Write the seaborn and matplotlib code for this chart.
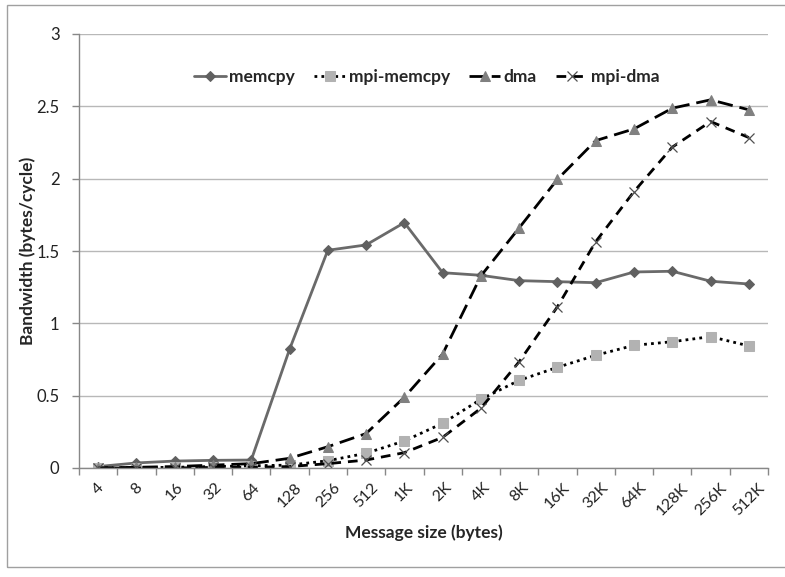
import matplotlib
matplotlib.use("Agg")
import matplotlib.pyplot as plt
import seaborn as sns
import numpy as np
import pandas as pd
from matplotlib.patches import Rectangle
from matplotlib.ticker import FixedLocator

sizes = ["4", "8", "16", "32", "64", "128", "256", "512", "1K", "2K", "4K",
         "8K", "16K", "32K", "64K", "128K", "256K", "512K"]
memcpy = [0.01, 0.035, 0.048, 0.053, 0.055, 0.82, 1.505, 1.542, 1.696, 1.35, 1.332,
          1.295, 1.288, 1.281, 1.355, 1.36, 1.291, 1.272]
mpi_memcpy = [0.0, 0.002, 0.005, 0.01, 0.015, 0.02, 0.05, 0.102, 0.187, 0.309, 0.475,
              0.606, 0.696, 0.779, 0.848, 0.873, 0.908, 0.844]
dma = [0.0, 0.005, 0.01, 0.02, 0.03, 0.067, 0.147, 0.238, 0.489, 0.788, 1.328,
       1.66, 1.996, 2.263, 2.344, 2.487, 2.545, 2.476]
mpi_dma = [0.0, 0.0, 0.0, 0.004, 0.005, 0.01, 0.03, 0.055, 0.106, 0.212, 0.413,
           0.735, 1.115, 1.565, 1.911, 2.218, 2.395, 2.284]
y_ticks = [0, 0.5, 1, 1.5, 2, 2.5, 3]

sns.set_theme(style="white")
plt.rcParams["font.family"] = ["Lato", "DejaVu Sans"]

fig = plt.figure(figsize=(7.85, 5.77), dpi=100)
ax = fig.add_axes([79 / 785, 109 / 577, (768 - 79) / 785, (543 - 109) / 577])

x = np.arange(len(sizes))

series = [
    ("memcpy", memcpy, dict(color="#6a6a6a", linestyle="-", marker="D", markersize=5,
                            markerfacecolor="#606060", markeredgecolor="#606060", linewidth=2)),
    ("mpi-memcpy", mpi_memcpy, dict(color="black", linestyle=(0, (1, 1.5)), marker="s", markersize=7,
                                    markerfacecolor="#b2b2b2", markeredgecolor="#b2b2b2", linewidth=2)),
    ("dma", dma, dict(color="black", linestyle=(0, (5.5, 2.5)), marker="^", markersize=7,
                      markerfacecolor="#808080", markeredgecolor="#808080", linewidth=2)),
    ("mpi-dma", mpi_dma, dict(color="black", linestyle=(0, (3.5, 2.5)), marker="x", markersize=7,
                              markerfacecolor="#505050", markeredgecolor="#505050",
                              markeredgewidth=0.9, linewidth=2)),
]

for name, vals, kw in series:
    sns.lineplot(x=x, y=vals, ax=ax, sort=False, label=name, **kw)

ax.set_xlim(-0.5, len(sizes) - 0.5)
ax.set_ylim(0, 3)
ax.set_yticks(y_ticks)
ax.set_yticklabels(["0", "0.5", "1", "1.5", "2", "2.5", "3"])
ax.set_xticks(x)
ax.set_xticklabels(sizes, rotation=45, ha="center", va="top")
ax.xaxis.set_minor_locator(FixedLocator(np.arange(-0.5, len(sizes), 1.0)))
ax.tick_params(axis="x", which="major", length=0, pad=9, labelsize=11.5, colors="#222222")
ax.tick_params(axis="x", which="minor", length=5, width=1, color="#888888", direction="out", bottom=True)
ax.tick_params(axis="y", which="major", length=5, width=1, color="#888888", direction="out",
               left=True, labelsize=12, colors="#222222", pad=9)

ax.grid(axis="y", color="#b8b8b8", linewidth=1)
ax.grid(axis="x", visible=False)
for s in ["top", "right"]:
    ax.spines[s].set_visible(False)
for s in ["left", "bottom"]:
    ax.spines[s].set_color("#888888")
    ax.spines[s].set_linewidth(1)

ax.set_ylabel("Bandwidth (bytes/cycle)", fontsize=12.5, fontweight="bold", labelpad=0)
ax.set_xlabel("Message size (bytes)", fontsize=12.5, fontweight="bold", labelpad=5)

ax.legend(loc="upper center", bbox_to_anchor=(0.505, 0.955), ncol=4, frameon=False,
          prop={"weight": "bold", "size": 12.5}, handlelength=1.8, columnspacing=1.1,
          handletextpad=0.2)

fig.patches.append(Rectangle((7 / 785, 10 / 577), 1.0, 562 / 577, transform=fig.transFigure,
                             fill=False, edgecolor="#a0a0a0", linewidth=1, zorder=0))

fig.savefig("out.png", dpi=100)
